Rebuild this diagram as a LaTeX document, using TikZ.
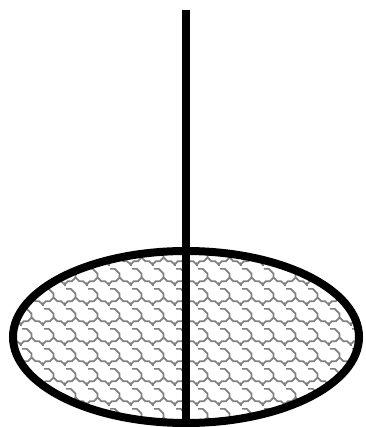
\documentclass[tikz,border=0pt]{standalone}
\usetikzlibrary{patterns}
\pgfdeclarepatternformonly{scalebrick}{\pgfpointorigin}{\pgfpoint{22pt}{20pt}}{\pgfpoint{22pt}{20pt}}{%
  \pgfsetlinewidth{1.8pt}%
  \pgfsetrectcap
  \pgfpathmoveto{\pgfpoint{0pt}{20pt}}%
  \pgfpathlineto{\pgfpoint{5pt}{20pt}}%
  \pgfpathlineto{\pgfpoint{10pt}{15pt}}%
  \pgfpathlineto{\pgfpoint{10pt}{11pt}}%
  \pgfpathlineto{\pgfpoint{14pt}{7pt}}%
  \pgfpathlineto{\pgfpoint{18pt}{7pt}}%
  \pgfpathlineto{\pgfpoint{22pt}{3pt}}%
  \pgfpathmoveto{\pgfpoint{10pt}{11pt}}%
  \pgfpathlineto{\pgfpoint{6pt}{7pt}}%
  \pgfpathlineto{\pgfpoint{2pt}{7pt}}%
  \pgfpathlineto{\pgfpoint{0pt}{5pt}}%
  \pgfpathmoveto{\pgfpoint{22pt}{5pt}}%
  \pgfpathlineto{\pgfpoint{22pt}{3pt}}%
  \pgfusepath{stroke}%
}
\begin{document}
\begin{tikzpicture}[x=1pt,y=-1pt,
  thick line/.style={line width=8pt,draw=black}]
\useasboundingbox (0,0) rectangle (365,427);
\coordinate (top) at (186,10);
\coordinate (bot) at (186,423);
\coordinate (c) at (186,337);
\fill[pattern=scalebrick, pattern color=gray] (c) ellipse [x radius=173, y radius=86];
\draw[thick line] (top) -- (bot);
\draw[thick line] (c) ellipse [x radius=173, y radius=86];
\end{tikzpicture}
\end{document}
